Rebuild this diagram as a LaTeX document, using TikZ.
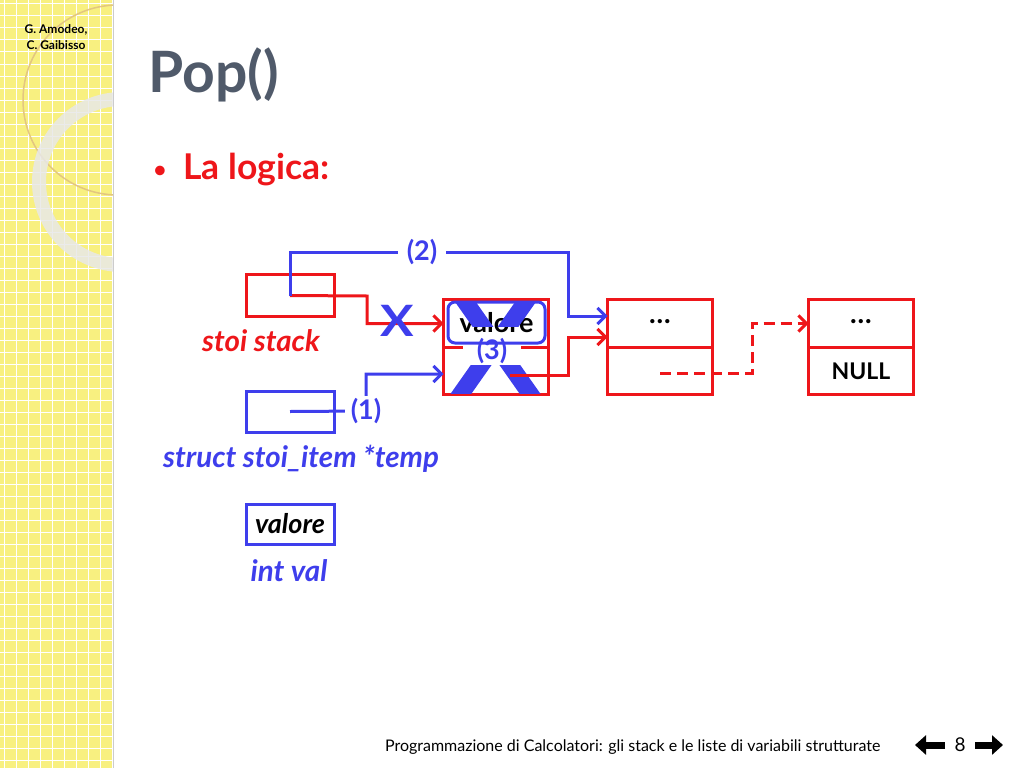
\documentclass[tikz,border=0pt]{standalone}
\usepackage{fontspec}
\setmainfont{Lato}
\usetikzlibrary{calc,positioning,arrows.meta}
\definecolor{stackred}{RGB}{238,22,26}
\definecolor{itemblue}{RGB}{62,62,236}
\definecolor{titlegray}{RGB}{80,90,106}
\definecolor{stripyellow}{RGB}{248,240,128}
\tikzstyle{cell} = [rectangle, draw=stackred, line width=3pt, minimum width=105pt, minimum height=47.5pt,
inner sep=0pt, outer sep=0pt, font=\fontsize{23}{23}\bfseries]
\tikzstyle{var} = [rectangle, line width=3pt, minimum width=88pt, minimum height=42pt, inner sep=0pt, outer sep=0pt]
\tikzstyle{varname} = [font=\fontsize{29.5}{29.5}\bfseries\itshape]
\tikzstyle{num} = [text=itemblue, font=\fontsize{27}{27}\bfseries, fill=white, inner sep=2pt]
\tikzstyle{redline} = [draw=stackred, line width=3pt, -{Straight Barb[length=8pt,width=16pt]}]
\tikzstyle{blueline} = [draw=itemblue, line width=3pt, -{Straight Barb[length=8pt,width=16pt]}]
\tikzstyle{dashline} = [redline, dash pattern=on 11pt off 6pt]
\tikzstyle{crossarm} = [itemblue, line width=17pt]

\begin{document}
\begin{tikzpicture}[x=1pt, y=-1pt, node distance=20pt]
\useasboundingbox (0,0) rectangle (1024,768);
% side strip
\begin{scope}
\clip (0,0) rectangle (113,768);
\fill[stripyellow] (0,0) rectangle (113,768);
\foreach \k in {0,...,9} \draw[white, line width=1pt] (12*\k+4,0) -- (12*\k+4,768);
\foreach \k in {0,...,64} \draw[white, line width=1pt] (0,12*\k+4) -- (113,12*\k+4);
\draw[stripyellow!50!brown!80!white, line width=1.5pt] (118,100) circle (95pt);
\draw[white!82!gray, line width=14pt, opacity=0.85] (122,182) circle (83pt);
\end{scope}
\draw[gray!40, line width=1pt] (113,0) -- (113,768);
\node[font=\fontsize{12}{12}\bfseries] (auth1) at (56,30) {G. Amodeo,};
\node[font=\fontsize{12}{12}\bfseries, below = -2pt of auth1] (auth2) {C. Gaibisso};

% title
\node[anchor=base west, text=titlegray, font=\fontsize{57}{57}\bfseries] (title) at (145,92) {Pop()};
\node[anchor=base west, text=stackred, font=\fontsize{22}{22}\bfseries] (bullet) at (150,177) {\textbullet};
\node[anchor=base west, text=stackred, font=\fontsize{35.5}{35.5}\bfseries] (logica) at (180,179) {La logica:};

% variables
\node [var, draw=stackred] (stack) at (290,295.5) {};
\node [varname, text=stackred] (stacklbl) at (261,341) {stoi stack};
\node [var, draw=itemblue, minimum height=41pt] (temp) at (290,411.5) {};
\node [varname, text=itemblue] (templbl) at (301,459) {struct stoi\_item *temp};
\node [var, draw=itemblue, minimum height=40pt, font=\fontsize{27}{27}\bfseries\itshape] (val) at (290,524) {valore};
\node [varname, text=itemblue] (vallbl) at (289,571) {int val};

% list
\node [cell] (n1top) at (496,323.5) {};
\node [cell, below = 0pt of n1top] (n1bot) {};
\node [cell, right = 59pt of n1top] (n2top) {\fontsize{28}{28}\selectfont\raisebox{4pt}{\dots}};
\node [cell, below = 0pt of n2top] (n2bot) {};
\node [cell, right = 96pt of n2top] (n3top) {\fontsize{28}{28}\selectfont\raisebox{4pt}{\dots}};
\node [cell, below = 0pt of n3top] (n3bot) {NULL};

\node [num, inner xsep=14pt, inner ysep=1pt] (three) at (492,351) {(3)};
\node [draw=itemblue, line width=3pt, rounded corners=7pt, minimum width=97pt, minimum height=41pt,
font=\fontsize{27}{27}\bfseries] (valbox) at (496.5,322.5) {valore};
\begin{scope}
\clip (446,301.5) rectangle (547,326);
\draw[crossarm] (450,280) -- (545,415) (541,280) -- (446,415);
\end{scope}
\begin{scope}
\clip (446,365) rectangle (547,393.5);
\draw[crossarm] (450,280) -- (545,415) (541,280) -- (446,415);
\end{scope}

% connectors
\coordinate (rbend) at (367,296);
\coordinate (up2) at (290,252);
\coordinate (down2) at (568,316);
\coordinate (c1) at (366,411);
\path [redline] (stack.center) -- (rbend) |- (n1top.west);
\node [text=itemblue, font=\fontsize{40}{40}\bfseries] (cross) at (397,321) {\scalebox{1.25}[1.08]{X}};
\path [blueline] (stack.center) -- (up2) -- node[num, pos=0.475, inner xsep=9pt]{(2)} (up2 -| down2) -- (down2) -- (down2 -| n2top.west);
\path [blueline] (temp.center) -- (c1) |- ($(n1bot.west)+(0,3)$);
\node [num, inner xsep=6pt] (one) at (c1) {(1)};
\path [redline] ($(n1bot.center)+(14,4)$) -| ($(down2)+(0,21)$) -- ($(n2top.west)+(0,13.5)$);
\path [dashline] ($(n2bot.center)+(0,2)$) -- ++(92,0) |- (n3top.west);

% footer
\node[anchor=base east, font=\fontsize{16}{16}\selectfont] (footer) at (884,751)
{Programmazione di Calcolatori: gli stack e le liste di variabili strutturate};
\node[font=\fontsize{19}{19}\selectfont] (page) at (960,745) {8};
\draw[line width=7pt, -{Triangle[length=11pt,width=19pt]}] (945,745) -- (915,745);
\draw[line width=7pt, -{Triangle[length=11pt,width=19pt]}] (975,745) -- (1003,745);
\end{tikzpicture}
\end{document}
